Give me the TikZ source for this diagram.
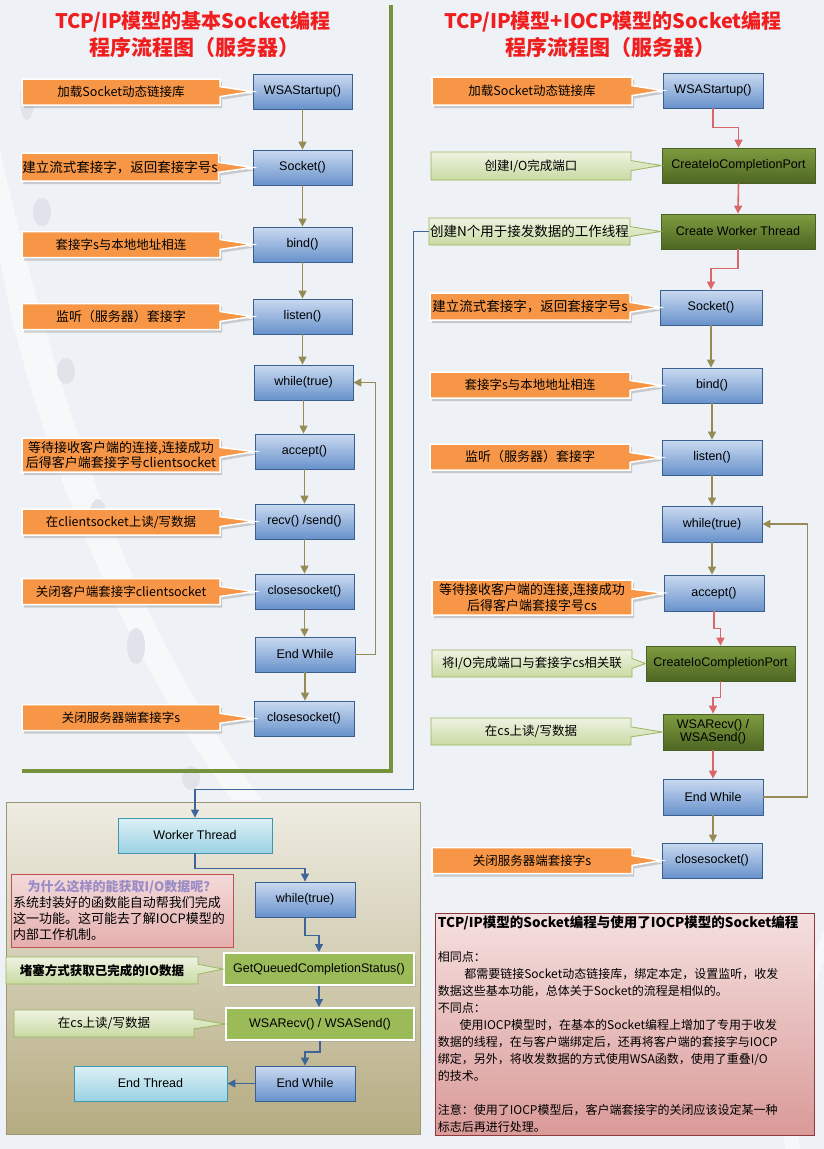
\documentclass[tikz,border=0pt]{standalone}
\usepackage{fontspec}
\setmainfont{Liberation Sans}
\newfontfamily\cjk{Noto Sans CJK SC}
\usetikzlibrary{shapes.callouts,shadows,arrows.meta,calc}
\definecolor{bg}{HTML}{EEF1F6}
\definecolor{bbtop}{HTML}{CADAF0}
\definecolor{bbbot}{HTML}{6892CC}
\definecolor{bbdr}{HTML}{3A5F8F}
\definecolor{gbtop}{HTML}{7E9C40}
\definecolor{gbbot}{HTML}{4E6622}
\definecolor{gbdr}{HTML}{4A5F24}
\definecolor{cbtop}{HTML}{DDF0F6}
\definecolor{cbbot}{HTML}{9BD2E2}
\definecolor{cbdr}{HTML}{3F96AE}
\definecolor{lgtop}{HTML}{EEF3E2}
\definecolor{lgbot}{HTML}{C8DAA2}
\definecolor{lgdr}{HTML}{9AB65E}
\definecolor{orng}{HTML}{F79646}
\definecolor{bright}{HTML}{9BBB59}
\definecolor{oline}{HTML}{958B55}
\definecolor{rline}{HTML}{D9676A}
\definecolor{bline}{HTML}{3E6597}
\definecolor{framec}{HTML}{76923C}
\definecolor{tantop}{HTML}{EEECE2}
\definecolor{tanbot}{HTML}{B6AC82}
\definecolor{tandr}{HTML}{9D9672}
\definecolor{pinktop}{HTML}{F5E0DF}
\definecolor{pinkbot}{HTML}{D99A98}
\definecolor{pinkdr}{HTML}{8E3A3A}
\definecolor{rntop}{HTML}{F3DADA}
\definecolor{rnbot}{HTML}{E4AFAE}
\definecolor{rndr}{HTML}{C05050}
\definecolor{titlered}{HTML}{F01E1E}
\definecolor{qpurple}{HTML}{9A8CC6}
\definecolor{deco}{HTML}{E0E3E9}
\begin{document}
\begin{tikzpicture}[x=1pt,y=-1pt,
  base/.style={rectangle, minimum height=35pt, inner sep=1pt, text=black,
    font=\fontsize{12.5}{13.5}\selectfont, align=center},
  bbox/.style={base, draw=bbdr, top color=bbtop, bottom color=bbbot, line width=0.8pt},
  gbox/.style={base, draw=gbdr, top color=gbtop, bottom color=gbbot, line width=0.8pt},
  cbox/.style={base, draw=cbdr, top color=cbtop, bottom color=cbbot, line width=0.8pt},
  brbox/.style={base, draw=white, fill=bright, line width=2pt,
    drop shadow={shadow xshift=1.5pt, shadow yshift=-1.5pt, opacity=.25}},
  ocall/.style={rectangle callout, callout pointer width=10pt, draw=white, line width=1.5pt,
    fill=orng, inner sep=1pt, align=center, text=black,
    font=\cjk\fontsize{12.5}{15}\selectfont,
    drop shadow={shadow xshift=2pt, shadow yshift=-3pt, opacity=.35}},
  gcall/.style={rectangle callout, callout pointer width=10pt, draw=lgdr, line width=0.8pt,
    top color=lgtop, bottom color=lgbot, inner sep=1pt, align=center, text=black,
    font=\cjk\fontsize{12.5}{15}\selectfont},
  oarr/.style={draw=oline, line width=1.4pt, -{Triangle[length=8pt,width=8pt]}},
  rarr/.style={draw=rline, line width=1.6pt, -{Triangle[length=8pt,width=8pt]}},
  barr/.style={draw=bline, line width=1.2pt, -{Triangle[length=8pt,width=8pt]}},
  ttl/.style={text=titlered, font=\cjk\bfseries\fontsize{20}{24}\selectfont},
  ttlb/.style={text=titlered, font=\cjk\bfseries\fontsize{21}{24}\selectfont}
]
\fill[bg] (0,0) rectangle (824,1149);
\useasboundingbox (0,0) rectangle (824,1149);
% decorations
\fill[white,opacity=.55] (0,150) .. controls (60,420) and (140,640) .. (262,800)
  -- (232,800) .. controls (115,640) and (30,430) .. (0,260) -- cycle;
\fill[white,opacity=.45] (824,960) .. controls (800,1020) and (790,1080) .. (800,1149)
  -- (785,1149) .. controls (778,1080) and (790,1010) .. (824,930) -- cycle;
\fill[deco] (27,100) ellipse (7 and 20);
\fill[deco] (42,212) ellipse (9 and 14);
\fill[deco] (66,371) ellipse (9 and 13);
\fill[deco] (98,513) ellipse (8 and 14);
\fill[deco] (136,646) ellipse (9 and 18);
\fill[deco] (191,778) ellipse (9 and 12);
% green frame
\draw[framec, line width=3.5pt] (391,5) -- (391,771) -- (22,771);
% tan panel
\shade[top color=tantop, bottom color=tanbot] (6,802) rectangle (420,1134);
\draw[tandr, line width=0.8pt] (6,802) rectangle (420,1134);

% titles
\node[ttl] (t1a) at (193,22) {TCP/IP模型的基本Socket编程};
\node[ttlb] (t1b) at (194,47) {程序流程图（服务器）};
\node[ttl] (t2a) at (613,22) {TCP/IP模型+IOCP模型的Socket编程};
\node[ttlb] (t2b) at (610,47) {程序流程图（服务器）};

% left column boxes
\node[bbox, minimum width=99pt] (lws) at (302.5,91.5) {WSAStartup()};
\node[bbox, minimum width=99pt] (lso) at (302.5,167.5) {Socket()};
\node[bbox, minimum width=99pt] (lbi) at (302.5,244.5) {bind()};
\node[bbox, minimum width=99pt] (lli) at (302.5,316.5) {listen()};
\node[bbox, minimum width=99pt] (lwh) at (303.5,382.5) {while(true)};
\node[bbox, minimum width=99pt] (lac) at (304.5,451.5) {accept()};
\node[bbox, minimum width=99pt] (lrs) at (304.5,521.5) {recv() /send()};
\node[bbox, minimum width=99pt] (lcs) at (304.5,591.5) {closesocket()};
\node[bbox, minimum width=100pt] (lew) at (305,654.5) {End While};
\node[bbox, minimum width=100pt] (lcl) at (304,718.5) {closesocket()};

% left callouts
\node[ocall, minimum width=198pt, minimum height=26pt, callout absolute pointer={(lws.west)}] (lc1) at (121,92) {加载Socket动态链接库};
\node[ocall, minimum width=196pt, minimum height=28pt, font=\cjk\fontsize{13.5}{15}\selectfont, callout absolute pointer={(lso.west)}] (lc2) at (120,167) {建立流式套接字，返回套接字号s};
\node[ocall, minimum width=198pt, minimum height=26pt, callout absolute pointer={(lbi.west)}] (lc3) at (121,244.5) {套接字s与本地地址相连};
\node[ocall, minimum width=198pt, minimum height=26pt, font=\cjk\fontsize{13}{15}\selectfont, callout absolute pointer={(lli.west)}] (lc4) at (121,316.5) {监听（服务器）套接字};
\node[ocall, minimum width=198pt, minimum height=34pt, font=\cjk\fontsize{13}{15.5}\selectfont, callout absolute pointer={(lac.west)}] (lc5) at (121,455) {等待接收客户端的连接,连接成功\\后得客户端套接字号clientsocket};
\node[ocall, minimum width=198pt, minimum height=26pt, callout absolute pointer={(lrs.west)}] (lc6) at (121,522) {在clientsocket上读/写数据};
\node[ocall, minimum width=198pt, minimum height=26pt, callout absolute pointer={(lcs.west)}] (lc7) at (121,591.5) {关闭客户端套接字clientsocket};
\node[ocall, minimum width=198pt, minimum height=26pt, callout absolute pointer={(lcl.west)}] (lc8) at (121,717.5) {关闭服务器端套接字s};

% left connectors
\draw[oarr] (lws.south) -- (lws.south |- lso.north);
\draw[oarr] (lso.south) -- (lso.south |- lbi.north);
\draw[oarr] (lbi.south) -- (lbi.south |- lli.north);
\draw[oarr] (lli.south) -- (lli.south |- lwh.north);
\draw[oarr] (lwh.south) -- (lwh.south |- lac.north);
\draw[oarr] (lac.south) -- (lac.south |- lrs.north);
\draw[oarr] (lrs.south) -- (lrs.south |- lcs.north);
\draw[oarr] (lcs.south) -- (lcs.south |- lew.north);
\draw[oarr] (lew.south) -- (lew.south |- lcl.north);
\draw[oarr] (lew.east) -| ($(lwh.east)+(22,0)$) -- (lwh.east);

% right column boxes
\node[bbox, minimum width=100pt] (rws) at (713,90.5) {WSAStartup()};
\node[gbox, minimum width=153pt] (rcp1) at (738.5,165.5) {CreateIoCompletionPort};
\node[gbox, minimum width=154pt] (rcw) at (738,231.5) {Create Worker Thread};
\node[bbox, minimum width=102pt] (rso) at (711,307.5) {Socket()};
\node[bbox, minimum width=100pt] (rbi) at (712,385.5) {bind()};
\node[bbox, minimum width=100pt] (rli) at (712,457.5) {listen()};
\node[bbox, minimum width=100pt, minimum height=36pt] (rwh) at (712,524) {while(true)};
\node[bbox, minimum width=100pt, minimum height=36pt] (rac) at (714,593) {accept()};
\node[gbox, minimum width=149pt] (rcp2) at (720.5,663.5) {CreateIoCompletionPort};
\node[gbox, minimum width=100pt, minimum height=36pt, font=\fontsize{12.5}{13}\selectfont] (rwr) at (713,732) {WSARecv() /\\WSASend()};
\node[bbox, minimum width=100pt, minimum height=36pt] (rew) at (713,797) {End While};
\node[bbox, minimum width=100pt] (rcl) at (712,860.5) {closesocket()};

% right callouts
\node[ocall, minimum width=200pt, minimum height=28pt, callout absolute pointer={(rws.west)}] (rc1) at (532,91) {加载Socket动态链接库};
\node[gcall, minimum width=200pt, minimum height=28pt, callout absolute pointer={(rcp1.west)}] (rc2) at (531,166) {创建I/O完成端口};
\node[gcall, minimum width=201pt, minimum height=27pt, font=\cjk\fontsize{13.5}{15}\selectfont, callout absolute pointer={(rcw.west)}] (rc3) at (529.5,231.5) {创建N个用于接发数据的工作线程};
\node[ocall, minimum width=200pt, minimum height=27pt, font=\cjk\fontsize{13.5}{15}\selectfont, callout absolute pointer={(rso.west)}] (rc4) at (530,306.5) {建立流式套接字，返回套接字号s};
\node[ocall, minimum width=200pt, minimum height=26pt, callout absolute pointer={(rbi.west)}] (rc5) at (530,385) {套接字s与本地地址相连};
\node[ocall, minimum width=200pt, minimum height=26pt, font=\cjk\fontsize{13}{15}\selectfont, callout absolute pointer={(rli.west)}] (rc6) at (530,457) {监听（服务器）套接字};
\node[ocall, minimum width=200pt, minimum height=35pt, font=\cjk\fontsize{13}{15.5}\selectfont, callout absolute pointer={(rac.west)}] (rc7) at (532,597.5) {等待接收客户端的连接,连接成功\\后得客户端套接字号cs};
\node[gcall, minimum width=200pt, minimum height=27pt, callout absolute pointer={(rcp2.west)}] (rc8) at (532,663.5) {将I/O完成端口与套接字cs相关联};
\node[gcall, minimum width=200pt, minimum height=27pt, callout absolute pointer={(rwr.west)}] (rc9) at (531,731.5) {在cs上读/写数据};
\node[ocall, minimum width=200pt, minimum height=26pt, callout absolute pointer={(rcl.west)}] (rc10) at (532,860.5) {关闭服务器端套接字s};

% right connectors
\draw[rarr] (rws.south) -- ++(0,19) -| (rcp1.north);
\draw[rarr] (rcp1.south) -- (rcw.north);
\draw[rarr] (rcw.south) -- ++(0,19) -| (rso.north);
\draw[oarr] (rso.south) -- (rso.south |- rbi.north);
\draw[oarr] (rbi.south) -- (rbi.south |- rli.north);
\draw[oarr] (rli.south) -- (rli.south |- rwh.north);
\draw[oarr] (rwh.south) -- (rwh.south |- rac.north);
\draw[rarr] (rac.south) -- ++(0,17) -| (rcp2.north);
\draw[rarr] (rcp2.south) -- ++(0,16) -| (rwr.north);
\draw[rarr] (rwr.south) -- (rwr.south |- rew.north);
\draw[oarr] (rew.south) -- (rew.south |- rcl.north);
\draw[oarr] (rew.east) -| ($(rwh.east)+(45,0)$) -- (rwh.east);

% worker thread panel
\node[cbox, minimum width=154pt] (wt) at (195,835.5) {Worker Thread};
\node[bbox, minimum width=100pt] (bwh) at (305,899.5) {while(true)};
\node[brbox, minimum width=190pt, minimum height=32pt] (gq) at (319,969) {GetQueuedCompletionStatus()};
\node[brbox, minimum width=188pt, minimum height=32pt] (bwr) at (320,1024) {WSARecv() / WSASend()};
\node[bbox, minimum width=100pt] (bew) at (305,1083.5) {End While};
\node[cbox, minimum width=153pt] (et) at (150.5,1083.5) {End Thread};

\node[rectangle, draw=rndr, line width=0.8pt, top color=rntop, bottom color=rnbot,
  minimum width=222pt, minimum height=73pt, text width=218pt, inner sep=2pt, align=left,
  font=\cjk\fontsize{13}{16}\selectfont] (why) at (122,910.5)
  {\makebox[218pt]{\textcolor{qpurple}{\bfseries 为什么这样的能获取I/O数据呢？}}\\
   系统封装好的函数能自动帮我们完成\\
   这一功能。这可能去了解IOCP模型的\\
   内部工作机制。};

\node[gcall, minimum width=192pt, minimum height=27pt, font=\cjk\bfseries\fontsize{12.5}{15}\selectfont, callout absolute pointer={(gq.west)}] (bc1) at (102,970.5) {堵塞方式获取已完成的IO数据};
\node[gcall, minimum width=180pt, minimum height=27pt, callout absolute pointer={(bwr.west)}] (bc2) at (104,1023.5) {在cs上读/写数据};

\draw[barr] (rc3.west) -- ++(-15,0) |- ($(wt.north)+(0,-28)$) -- (wt.north);
\draw[barr] (wt.south) -- ++(0,15) -| (bwh.north);
\draw[barr] (bwh.south) -- ++(0,18) -| (gq.north);
\draw[barr] (gq.south) -- (gq.south |- bwr.north);
\draw[barr] (bwr.south) -- ++(0,11) -| (bew.north);
\draw[barr] (bew.west) -- (et.east);

% comparison note
\node[rectangle, draw=pinkdr, line width=0.8pt, top color=pinktop, bottom color=pinkbot,
  anchor=north west, minimum width=379pt, minimum height=220pt, text width=374pt,
  inner sep=2.5pt, align=left, font=\cjk\fontsize{12}{17}\selectfont] (note) at (435,913)
  {{\bfseries\fontsize{13.5}{17}\selectfont TCP/IP模型的Socket编程与使用了IOCP模型的Socket编程}\\
   \mbox{}\\
   相同点：\\
   \hspace*{2.2em}都需要链接Socket动态链接库，绑定本定，设置监听，收发\\
   数据这些基本功能，总体关于Socket的流程是相似的。\\
   不同点：\\
   \hspace*{1.8em}使用IOCP模型时，在基本的Socket编程上增加了专用于收发\\
   数据的线程，在与客户端绑定后，还再将客户端的套接字与IOCP\\
   绑定，另外，将收发数据的方式使用WSA函数，使用了重叠I/O\\
   的技术。\\
   \mbox{}\\
   注意：使用了IOCP模型后，客户端套接字的关闭应该设定某一种\\
   标志后再进行处理。};
\end{tikzpicture}
\end{document}
